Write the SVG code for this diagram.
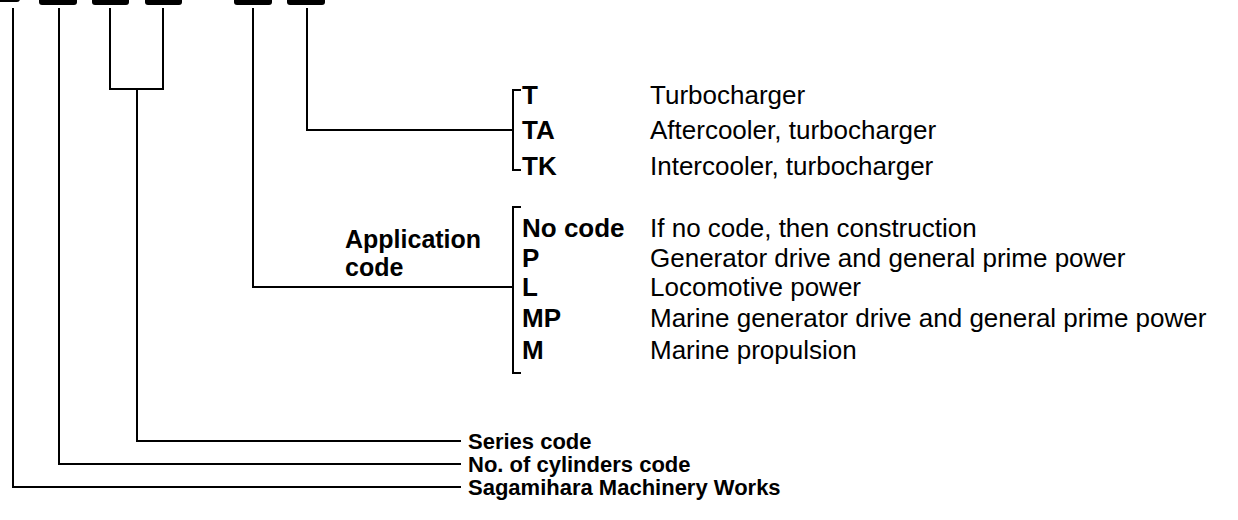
<svg xmlns="http://www.w3.org/2000/svg" width="1238" height="520" viewBox="0 0 1238 520">
<style>
.ln{stroke:#000;stroke-width:2;fill:none;stroke-linecap:square}
.box{fill:#000}
.b{font-family:"Liberation Sans",Arial,sans-serif;font-weight:bold;font-size:26px;fill:#000}
.a{font-family:"Liberation Sans",Arial,sans-serif;font-weight:bold;font-size:25px;fill:#000}
.r{font-family:"Liberation Sans",Arial,sans-serif;font-size:26px;fill:#000}
.bl{font-family:"Liberation Sans",Arial,sans-serif;font-weight:bold;font-size:22px;fill:#000}
</style>
<rect width="1238" height="520" fill="#fff"/>
<g id="code-boxes">
<rect class="box" x="-18" y="-12" width="38" height="14" rx="3"/>
<rect class="box" x="39" y="-10" width="38" height="15" rx="3"/>
<rect class="box" x="92" y="-10" width="37" height="15" rx="3"/>
<rect class="box" x="145" y="-10" width="37" height="15" rx="3"/>
<rect class="box" x="234" y="-10" width="38" height="15" rx="3"/>
<rect class="box" x="287" y="-10" width="38" height="15" rx="3"/>
</g>
<g id="connectors">
<polyline class="ln" points="13,9 13,487 460,487"/>
<polyline class="ln" points="59,9 59,464 460,464"/>
<polyline class="ln" points="110,9 110,89 163,89 163,9"/>
<polyline class="ln" points="137,89 137,441 460,441"/>
<polyline class="ln" points="253,9 253,287 513,287"/>
<polyline class="ln" points="307,9 307,130 513,130"/>
<polyline class="ln" points="520,90 513,90 513,170 520,170"/>
<polyline class="ln" points="520,207 513,207 513,373 520,373"/>
</g>
<g id="turbo">
<text class="b" x="522" y="104">T</text>
<text class="b" x="522" y="139">TA</text>
<text class="b" x="522" y="175">TK</text>
<text class="r" x="650" y="104">Turbocharger</text>
<text class="r" x="650" y="139">Aftercooler, turbocharger</text>
<text class="r" x="650" y="175">Intercooler, turbocharger</text>
</g>
<g id="application">
<text class="a" x="345" y="248">Application</text>
<text class="a" x="345" y="276">code</text>
<text class="b" x="522" y="237">No code</text>
<text class="b" x="522" y="267">P</text>
<text class="b" x="522" y="296">L</text>
<text class="b" x="522" y="327">MP</text>
<text class="b" x="522" y="359">M</text>
<text class="r" x="650" y="237">If no code, then construction</text>
<text class="r" x="650" y="267">Generator drive and general prime power</text>
<text class="r" x="650" y="296">Locomotive power</text>
<text class="r" x="650" y="327">Marine generator drive and general prime power</text>
<text class="r" x="650" y="359">Marine propulsion</text>
</g>
<g id="series"><text class="bl" x="468" y="449">Series code</text></g>
<g id="cylinders"><text class="bl" x="468" y="472">No. of cylinders code</text></g>
<g id="works"><text class="bl" x="468" y="495">Sagamihara Machinery Works</text></g>
</svg>
